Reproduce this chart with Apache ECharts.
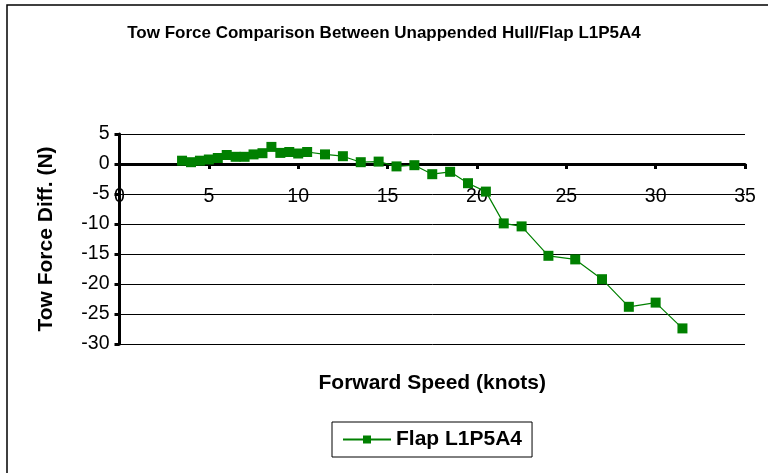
<!DOCTYPE html>
<html>
<head>
<meta charset="utf-8">
<script src="https://cdn.jsdelivr.net/npm/echarts@6/dist/echarts.min.js"></script>
<style>
html,body{margin:0;padding:0;background:#fff;}
#c{width:768px;height:473px;}
</style>
</head>
<body>
<div id="c"></div>
<script>
var titleText = 'Tow Force Comparison Between Unappended Hull/Flap L1P5A4';
var xTitle = 'Forward Speed (knots)';
var yTitle = 'Tow Force Diff. (N)';
var seriesName = 'Flap L1P5A4';
var speeds = [3.5,4,4.5,5,5.5,6,6.5,7,7.5,8,8.5,9,9.5,10,10.5,11.5,12.5,13.5,14.5,15.5,16.5,17.5,18.5,19.5,20.5,21.5,22.5,24,25.5,27,28.5,30,31.5];
var forceDiff = [0.55,0.3,0.55,0.75,1.0,1.5,1.2,1.2,1.6,1.8,2.85,1.85,2.0,1.75,2.0,1.6,1.3,0.3,0.4,-0.4,-0.2,-1.7,-1.3,-3.2,-4.6,-9.9,-10.4,-15.3,-15.9,-19.2,-23.8,-23.1,-27.4];
var xMin = 0, xMax = 35, xStep = 5;
var yMin = -30, yMax = 5, yStep = 5;

var FONT = '"Liberation Sans", Arial, sans-serif';
var data = speeds.map(function(s, i){ return [s, forceDiff[i]]; });

var chart = echarts.init(document.getElementById('c'), null, {renderer:'canvas'});
chart.setOption({
  animation: false,
  backgroundColor: '#fff',
  title: {
    text: titleText,
    left: 'center',
    top: 20,
    textStyle: {fontFamily: FONT, fontSize: 17, fontWeight: 'bold', color: '#000'}
  },
  graphic: [{
    type: 'rect',
    shape: {x: 7, y: 5, width: 800, height: 520},
    style: {fill: 'none', stroke: '#000', lineWidth: 1.5},
    silent: true
  }],
  legend: {
    data: [seriesName],
    left: 332,
    top: 422,
    padding: [7, 10],
    itemWidth: 48,
    itemHeight: 10,
    borderColor: '#000',
    borderWidth: 1,
    textStyle: {fontFamily: FONT, fontSize: 21, fontWeight: 'bold', color: '#000'}
  },
  grid: {left: 119.5, right: 23, top: 134, bottom: 129, containLabel: false, outerBoundsMode: 'none'},
  xAxis: {
    type: 'value',
    min: xMin, max: xMax, interval: xStep,
    name: xTitle,
    nameLocation: 'middle',
    nameGap: 29,
    nameTextStyle: {fontFamily: FONT, fontSize: 21, fontWeight: 'bold', color: '#000'},
    axisLine: {onZero: true, lineStyle: {color: '#000', width: 3}},
    axisTick: {show: true, inside: false, length: 5, lineStyle: {color: '#000', width: 3}},
    axisLabel: {margin: -157, fontFamily: FONT, fontSize: 19.5, color: '#000'},
    splitLine: {show: false}
  },
  yAxis: {
    type: 'value',
    min: yMin, max: yMax, interval: yStep,
    name: yTitle,
    nameLocation: 'middle',
    nameRotate: 90,
    nameGap: 63,
    nameTextStyle: {fontFamily: FONT, fontSize: 21, fontWeight: 'bold', color: '#000'},
    axisLine: {show: true, onZero: false, lineStyle: {color: '#000', width: 3}},
    axisTick: {show: true, inside: false, length: 5, lineStyle: {color: '#000', width: 3}},
    axisLabel: {margin: 10, fontFamily: FONT, fontSize: 19.5, color: '#000'},
    splitLine: {show: true, lineStyle: {color: '#000', width: 1}}
  },
  series: [{
    name: seriesName,
    type: 'line',
    data: data,
    symbol: 'rect',
    symbolSize: 10,
    itemStyle: {color: '#008000'},
    lineStyle: {color: '#008000', width: 1.2},
    z: 5
  }]
});
</script>
</body>
</html>
